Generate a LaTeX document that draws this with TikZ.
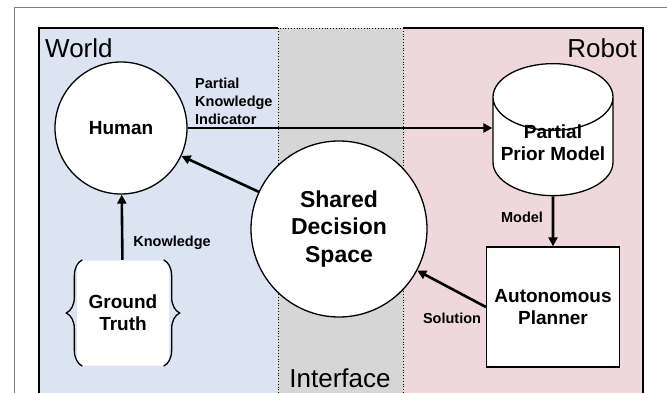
\documentclass[tikz,border=0pt]{standalone}
\usepackage{fontspec}
\setmainfont{Liberation Sans}
\usetikzlibrary{arrows.meta,shapes.geometric,decorations.pathreplacing}
\definecolor{worldblue}{RGB}{219,228,240}
\definecolor{ifgray}{RGB}{214,214,214}
\definecolor{robotpink}{RGB}{239,216,220}

\begin{document}
\begin{tikzpicture}[x=1pt,y=-1pt]
\tikzstyle{block}=[draw,line width=1.3pt,fill=white,align=center,font=\fontsize{19}{22}\selectfont\bfseries]
\tikzstyle{edgetext}=[inner sep=0pt,font=\fontsize{14.5}{18}\selectfont\bfseries]
\tikzstyle{region}=[inner sep=0pt,font=\fontsize{26}{30}\selectfont]
\tikzstyle{flow}=[line width=2.6pt,-{Triangle[length=9pt,width=9pt]}]
\useasboundingbox (0,0) rectangle (667,393);
% the three areas
\fill[worldblue] (39,28) rectangle (278,393);
\fill[ifgray] (278,28) rectangle (403,393);
\fill[robotpink] (403,28) rectangle (643,393);
\draw[line width=1.2pt] (39,393) -- (39,28) -- (278,28);
\draw[line width=1.2pt] (403,28) -- (643,28) -- (643,393);
\draw[dotted,line width=0.8pt] (278,393) -- (278,28) -- (403,28) -- (403,393);
\draw[gray,line width=1pt] (14,393) -- (14,8) -- (667,8);
\node[region,anchor=west] (world) at (45,48) {World};
\node[region,anchor=east] (robot) at (637,48) {Robot};
\node[region] (iface) at (340,378) {Interface};

\node[block,circle,minimum size=132pt] (human) at (121,128) {Human};
\node[block,circle,minimum size=176pt,font=\fontsize{23}{27.5}\selectfont\bfseries] (shared) at (339,229) {Shared\\Decision\\Space};
\node[block,cylinder,shape border rotate=90,aspect=0.6,minimum width=120pt,minimum height=132pt,anchor=north] (model) at (553,63)
  {\raisebox{-8pt}[0pt][0pt]{\begin{tabular}[b]{@{}c@{}}Partial\\Prior Model\end{tabular}}};
\node[block,minimum width=133pt,minimum height=120pt] (planner) at (553,307) {Autonomous\\Planner};
\node[block,draw=none,rounded corners=5pt,minimum width=92pt,minimum height=105pt] (truth) at (123,313) {Ground\\Truth};
\draw[line width=1.3pt,decorate,decoration={brace,amplitude=16pt}] ([xshift=6pt]truth.south west) -- ([xshift=6pt]truth.north west);
\draw[line width=1.3pt,decorate,decoration={brace,amplitude=16pt}] ([xshift=-6pt]truth.north east) -- ([xshift=-6pt]truth.south east);

\draw[flow] (truth) -- (human);
\draw[flow] (human.east) -- (human.east -| model.west);
\draw[flow] (shared) -- (human);
\draw[flow] (model.south) -- (planner);
\draw[flow] (planner.west) -- (shared);

\node[edgetext,anchor=west,align=left] (pki) at (195,101) {Partial\\Knowledge\\Indicator};
\node[edgetext] (know) at (172,243) {Knowledge};
\node[edgetext] (mdl) at (522,217) {Model};
\node[edgetext] (sol) at (452,318) {Solution};
\end{tikzpicture}
\end{document}
